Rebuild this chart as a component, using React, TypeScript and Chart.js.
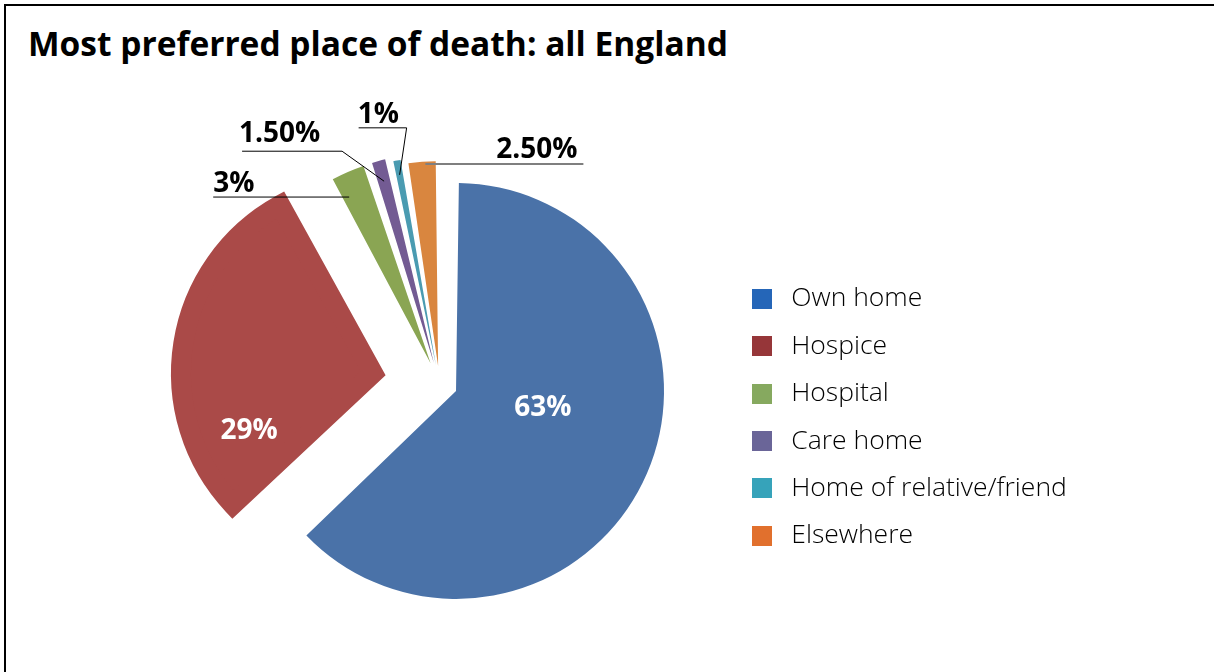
import React, { useEffect, useRef } from 'react';
import { Chart, registerables } from 'chart.js';

Chart.register(...registerables);

// ---- data ----
const categories = ['Own home', 'Hospice', 'Hospital', 'Care home', 'Home of relative/friend', 'Elsewhere'];
const shares = [63, 29, 3, 1.5, 1, 2.5];
const shareLabels = ['63%', '29%', '3%', '1.50%', '1%', '2.50%'];
const titleText = 'Most preferred place of death: all England';

// ---- styles ----
const sliceColors = ['#4A72A8', '#AA4A48', '#8AA553', '#735B93', '#4A9BB1', '#D9863F'];
const legendColors = ['#2566B8', '#963639', '#86A95F', '#6A6598', '#36A3BA', '#E1702D'];
const explodeOffsets = [72, 269, 90, 86, 77, 71];
const sliceBorderWidths = [0, 20, 0, 0, 0, 0];
const PIE_RADIUS = 190;
const FONT = "'Open Sans', 'Noto Sans', sans-serif";
const LEGEND_FONT_SIZE = 26.5;
const LEGEND_PAD = 20.9;
const SWATCH_W = 26;

type LabelSpec =
  | { kind: 'inside'; frac: number; radius: number }
  | {
      kind: 'outside';
      frac: number;
      radius: number;
      elbow: [number, number];
      run: number;
      textDx: number;
      textDy: number;
      align: CanvasTextAlign;
      lineColor: string;
      lineWidth: number;
    };

const labelLayout: LabelSpec[] = [
  { kind: 'inside', frac: 0.445, radius: 0.425 },
  { kind: 'inside', frac: 0.175, radius: 0.712 },
  { kind: 'outside', frac: 0.25, radius: 0.888, elbow: [0, 0], run: -136, textDx: 0, textDy: -5, align: 'left', lineColor: '#000', lineWidth: 1 },
  { kind: 'outside', frac: 0.5, radius: 0.9, elbow: [-42, -30], run: -100, textDx: -3, textDy: -9, align: 'left', lineColor: '#000', lineWidth: 1 },
  { kind: 'outside', frac: 0.5, radius: 0.93, elbow: [7, -47], run: -48, textDx: -1, textDy: -5, align: 'left', lineColor: '#000', lineWidth: 1 },
  { kind: 'outside', frac: 0.6, radius: 0.988, elbow: [0, 0], run: 158, textDx: -6, textDy: -6, align: 'right', lineColor: '#7F7F7F', lineWidth: 2 },
];

const labelPlugin = {
  id: 'sliceLabels',
  afterDatasetsDraw(chart: any) {
    const ctx: CanvasRenderingContext2D = chart.ctx;
    const meta = chart.getDatasetMeta(0);
    ctx.save();
    meta.data.forEach((arc: any, i: number) => {
      const spec = labelLayout[i];
      if (!spec) return;
      const p = arc.getProps(['x', 'y', 'startAngle', 'endAngle', 'outerRadius', 'circumference'], true);
      const off = (arc.options.offset || 0) / 4;
      const mid = (p.startAngle + p.endAngle) / 2;
      const fix = 1 - Math.sin(Math.min(Math.PI, p.circumference));
      const ax = p.x + Math.cos(mid) * off;
      const ay = p.y + Math.sin(mid) * off;
      const r = p.outerRadius + off * fix;
      const ang = p.startAngle + spec.frac * (p.endAngle - p.startAngle);
      const px = ax + Math.cos(ang) * r * spec.radius;
      const py = ay + Math.sin(ang) * r * spec.radius;
      ctx.font = `bold 28px ${FONT}`;
      if (spec.kind === 'inside') {
        ctx.fillStyle = '#FFFFFF';
        ctx.textAlign = 'center';
        ctx.textBaseline = 'middle';
        ctx.fillText(shareLabels[i], px, py);
      } else {
        const ex = px + spec.elbow[0];
        const ey = py + spec.elbow[1];
        const endX = ex + spec.run;
        ctx.strokeStyle = spec.lineColor;
        ctx.lineWidth = spec.lineWidth;
        ctx.beginPath();
        ctx.moveTo(px, py);
        ctx.lineTo(ex, ey);
        ctx.lineTo(endX, ey);
        ctx.stroke();
        ctx.fillStyle = '#000000';
        ctx.textAlign = spec.align;
        ctx.textBaseline = 'alphabetic';
        ctx.fillText(shareLabels[i], endX + spec.textDx, ey + spec.textDy);
      }
    });
    ctx.restore();
  },
};

function makeSwatch(color: string): HTMLCanvasElement {
  const c = document.createElement('canvas');
  c.width = SWATCH_W;
  c.height = 20;
  const g = c.getContext('2d')!;
  g.fillStyle = color;
  g.fillRect(0, 0, 20, 20);
  return c;
}

export default function App() {
  const canvasRef = useRef<HTMLCanvasElement | null>(null);

  useEffect(() => {
    if (!canvasRef.current) return;
    const legendFont = { family: FONT, size: LEGEND_FONT_SIZE, weight: 300 as any };
    const measure = document.createElement('canvas').getContext('2d')!;
    measure.font = `300 ${LEGEND_FONT_SIZE}px ${FONT}`;
    const longest = Math.max(...categories.map((c) => measure.measureText(c).width));
    const legendLeft = 752 - LEGEND_PAD;
    const padRight = 1214 - legendLeft - (LEGEND_PAD + SWATCH_W + LEGEND_FONT_SIZE / 2 + longest + 10);
    const pieCenterX = 439.5;
    const padLeft = 2 * pieCenterX - legendLeft;
    const swatches = legendColors.map(makeSwatch);

    const chart = new Chart(canvasRef.current, {
      type: 'pie',
      data: {
        labels: categories,
        datasets: [
          {
            data: shares,
            backgroundColor: sliceColors,
            borderColor: sliceColors,
            borderWidth: sliceBorderWidths,
            borderJoinStyle: 'miter',
            offset: explodeOffsets,
            hoverOffset: 0,
            radius: PIE_RADIUS,
            clip: false,
          } as any,
        ],
      },
      options: {
        responsive: false,
        animation: false,
        radius: PIE_RADIUS,
        layout: { padding: { left: padLeft, right: padRight, top: 197.6, bottom: 102 } },
        plugins: {
          tooltip: { enabled: false },
          title: { display: false },
          legend: {
            display: true,
            position: 'right',
            align: 'end',
            labels: {
              font: legendFont,
              color: '#000',
              padding: LEGEND_PAD,
              usePointStyle: true,
              pointStyleWidth: SWATCH_W,
              generateLabels: () =>
                categories.map((c, i) => ({
                  text: c,
                  fillStyle: legendColors[i],
                  strokeStyle: legendColors[i],
                  lineWidth: 0,
                  pointStyle: swatches[i],
                  hidden: false,
                  index: i,
                  fontColor: '#000',
                })) as any,
            },
          },
        },
      } as any,
      plugins: [labelPlugin],
    });
    return () => chart.destroy();
  }, []);

  return (
    <div style={{ position: 'fixed', left: 0, top: 0, width: 1214, height: 672, background: '#fff', overflow: 'hidden' }}>
      <div
        style={{
          position: 'absolute',
          left: 4,
          top: 4,
          width: 1400,
          height: 900,
          borderTop: '2px solid #000',
          borderLeft: '2px solid #000',
        }}
      />
      <div
        style={{
          position: 'absolute',
          left: 28,
          top: 27.25,
          font: `bold 33.5px ${FONT}`,
          lineHeight: '33.5px',
          color: '#000',
          whiteSpace: 'nowrap',
        }}
      >
        {titleText}
      </div>
      <canvas ref={canvasRef} width={1214} height={672} style={{ position: 'absolute', left: 0, top: 0, width: 1214, height: 672 }} />
    </div>
  );
}
